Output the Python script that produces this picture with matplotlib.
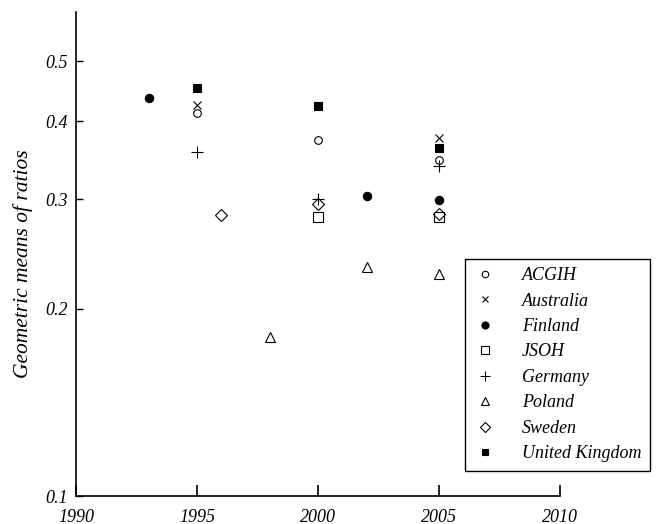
import matplotlib
matplotlib.use("Agg")
from matplotlib import pyplot as plt
from matplotlib.ticker import FixedLocator, NullLocator, FixedFormatter

# DATOS
acgih_x = [1995, 2000, 2005]
acgih_y = [0.412, 0.373, 0.347]
australia_x = [1995, 2005]
australia_y = [0.425, 0.376]
finland_x = [1993, 2002, 2005]
finland_y = [0.436, 0.304, 0.299]
jsoh_x = [2000, 2005]
jsoh_y = [0.281, 0.281]
germany_x = [1995, 2000, 2005]
germany_y = [0.357, 0.300, 0.339]
poland_x = [1998, 2002, 2005]
poland_y = [0.180, 0.233, 0.227]
sweden_x = [1996, 2000, 2005]
sweden_y = [0.283, 0.295, 0.284]
uk_x = [1995, 2000, 2005]
uk_y = [0.452, 0.423, 0.363]

y_ticks = [0.1, 0.2, 0.3, 0.4, 0.5]
y_labels = ["0.1", "0.2", "0.3", "0.4", "0.5"]
x_ticks = [1990, 1995, 2000, 2005, 2010]

plt.rcParams['font.family'] = ['Liberation Serif', 'DejaVu Serif']

fig = plt.figure(figsize=(6.56, 5.24), dpi=100)
ax = fig.add_axes([0.116, 0.0534, 0.738, 0.924])

estilo = dict(linestyle='none', color='black', markeredgewidth=0.8)
ax.plot(acgih_x, acgih_y, marker='o', markersize=5.5, markerfacecolor='white', label='ACGIH', **estilo)
ax.plot(australia_x, australia_y, marker='x', markersize=5.5, label='Australia', **estilo)
ax.plot(finland_x, finland_y, marker='o', markersize=6, markerfacecolor='black', label='Finland', **estilo)
ax.plot(jsoh_x, jsoh_y, marker='s', markersize=7.5, markerfacecolor='none', label='JSOH', **estilo)
ax.plot(germany_x, germany_y, marker='+', markersize=8, label='Germany', **estilo)
ax.plot(poland_x, poland_y, marker='^', markersize=7.5, markerfacecolor='none', label='Poland', **estilo)
ax.plot(sweden_x, sweden_y, marker='D', markersize=6, markerfacecolor='none', label='Sweden', **estilo)
ax.plot(uk_x, uk_y, marker='s', markersize=5.5, markerfacecolor='black', label='United Kingdom', **estilo)

ax.set_yscale('log')
ax.set_ylim(0.1, 0.6)
ax.set_xlim(1990, 2010)

ax.yaxis.set_major_locator(FixedLocator(y_ticks))
ax.yaxis.set_major_formatter(FixedFormatter(y_labels))
ax.yaxis.set_minor_locator(NullLocator())
ax.xaxis.set_major_locator(FixedLocator(x_ticks))

for lado in ['top', 'right']:
    ax.spines[lado].set_visible(False)
for lado in ['left', 'bottom']:
    ax.spines[lado].set_linewidth(1.2)

# ticks hacia dentro en los dos ejes
ax.tick_params(axis='y', direction='in', length=5, width=1, pad=6, labelsize=13)
ax.tick_params(axis='x', direction='in', length=8, width=1.2, pad=9, labelsize=13)
for t in ax.get_xticklabels() + ax.get_yticklabels():
    t.set_fontstyle('italic')

ax.set_ylabel('Geometric means of ratios', fontsize=15.5, fontstyle='italic')
ax.yaxis.set_label_coords(-0.09, 0.48)

ley = fig.legend(loc='lower left', bbox_to_anchor=(0.709, 0.102),
                 prop={'style': 'italic', 'size': 13}, frameon=True, fancybox=False,
                 edgecolor='black', framealpha=1, borderpad=0.45, labelspacing=0.47,
                 handlelength=1.3, handletextpad=1.4, borderaxespad=0, markerscale=0.85)
ley.get_frame().set_linewidth(1)

fig.savefig("out.png", dpi=100)
